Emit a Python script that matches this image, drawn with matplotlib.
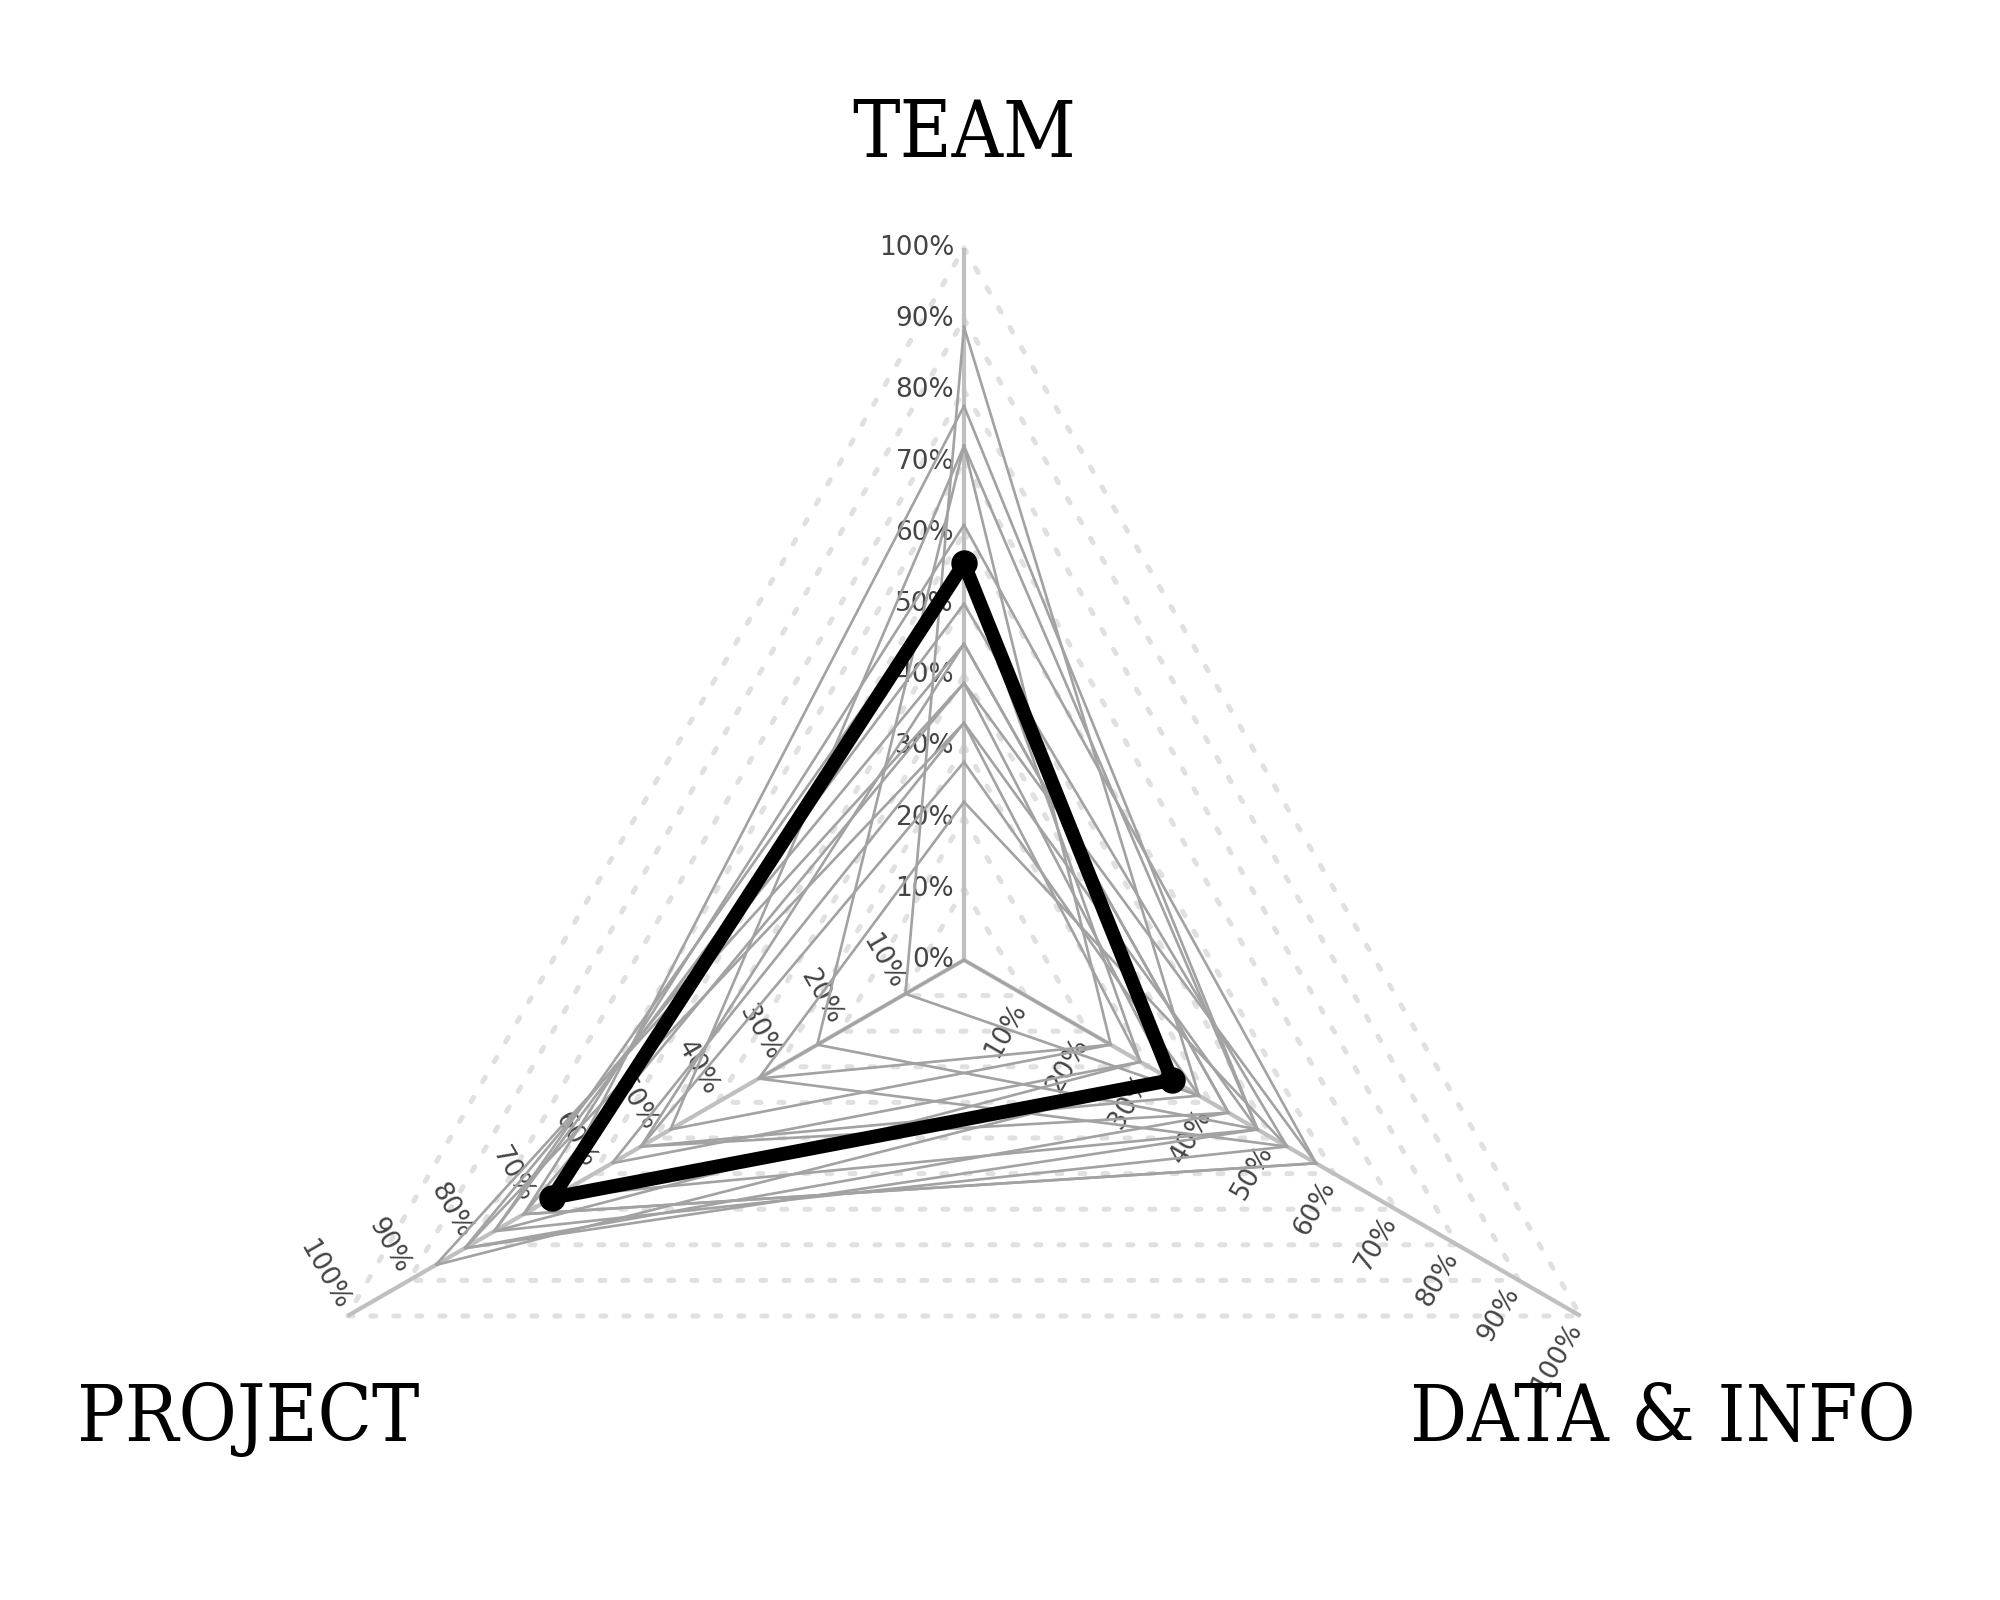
import numpy as np
import matplotlib
matplotlib.use("Agg")
import matplotlib.pyplot as plt

# ---------------- data ----------------
axis_names = ["TEAM", "DATA & INFO", "PROJECT"]
level_values = [0.0, 0.1, 0.2, 0.3, 0.4, 0.5, 0.6, 0.7, 0.8, 0.9, 1.0]
level_labels = ["0%", "10%", "20%", "30%", "40%", "50%", "60%", "70%", "80%", "90%", "100%"]

# individual responses (fraction of max score)
team_scores    = [0.889, 0.778, 0.722, 0.722, 0.000, 0.611, 0.500, 0.444,
                  0.389, 0.333, 0.278, 0.222, 0.389, 0.556, 0.444, 0.333]
data_scores    = [0.381, 0.476, 0.238, 0.476, 0.238, 0.571, 0.524, 0.429,
                  0.333, 0.286, 0.381, 0.524, 0.571, 0.286, 0.429, 0.476]
project_scores = [0.095, 0.667, 0.476, 0.238, 0.333, 0.714, 0.762, 0.810,
                  0.857, 0.571, 0.524, 0.333, 0.714, 0.762, 0.524, 0.810]

# highlighted (average) profile
avg_scores = [0.557, 0.337, 0.668]   # TEAM, DATA & INFO, PROJECT

# ---------------- geometry ----------------
W, H = 2000, 1600
CX, CY, R = 964, 960, 712
angles = np.deg2rad([90, -30, 210])   # TEAM, DATA & INFO, PROJECT


def to_xy(vals):
    vals = np.asarray(vals, dtype=float)
    xs = CX + R * vals * np.cos(angles)
    ys = CY - R * vals * np.sin(angles)
    return np.append(xs, xs[0]), np.append(ys, ys[0])


fig = plt.figure(figsize=(W / 100, H / 100), dpi=100)
ax = fig.add_axes([0, 0, 1, 1])
ax.set_xlim(0, W)
ax.set_ylim(H, 0)
ax.axis("off")

# dotted grid polygons
for lv in level_values[1:]:
    gx, gy = to_xy([lv, lv, lv])
    ax.plot(gx, gy, color="#e0e0e0", lw=3.6, ls=(0, (1, 3.6)),
            dash_capstyle="round", zorder=1)

# spokes
for a in angles:
    ax.plot([CX, CX + R * np.cos(a)], [CY, CY - R * np.sin(a)],
            color="#bfbfbf", lw=3.0, solid_capstyle="butt", zorder=2)

# tick labels along each axis
off = 10
for k, a in enumerate(angles):
    if k == 0:
        rot = 0
        start = 0
    elif k == 1:
        rot = 60
        start = 1
    else:
        rot = -60
        start = 1
    rd = np.deg2rad(rot)
    dirx, diry = np.cos(rd), -np.sin(rd)  # reading direction on screen
    for lv, lab in zip(level_values[start:], level_labels[start:]):
        px = CX + R * lv * np.cos(a) - off * dirx
        py = CY - R * lv * np.sin(a) - off * diry
        ax.text(px, py, lab, rotation=rot, rotation_mode="anchor",
                ha="right", va="center", fontsize=19, color="#444444",
                family="DejaVu Sans", zorder=3)

# individual responses
for t, d, p in zip(team_scores, data_scores, project_scores):
    lx, ly = to_xy([t, d, p])
    ax.plot(lx, ly, color="#a2a2a2", lw=1.9, solid_joinstyle="miter", zorder=4)

# average profile
bx, by = to_xy(avg_scores)
ax.plot(bx, by, color="black", lw=10, solid_joinstyle="round",
        solid_capstyle="round", zorder=6)
ax.plot(bx[:-1], by[:-1], "o", color="black", ms=18, zorder=7)

# axis titles
title_font = dict(family="DejaVu Serif", fontstretch="condensed",
                  fontsize=57, color="black")
ax.text(CX, 135, axis_names[0], ha="center", va="center", **title_font)
ax.text(77, 1419, axis_names[2], ha="left", va="center", **title_font)
ax.text(1916, 1419, axis_names[1], ha="right", va="center", **title_font)

fig.savefig("out.png", dpi=100, facecolor="white")
